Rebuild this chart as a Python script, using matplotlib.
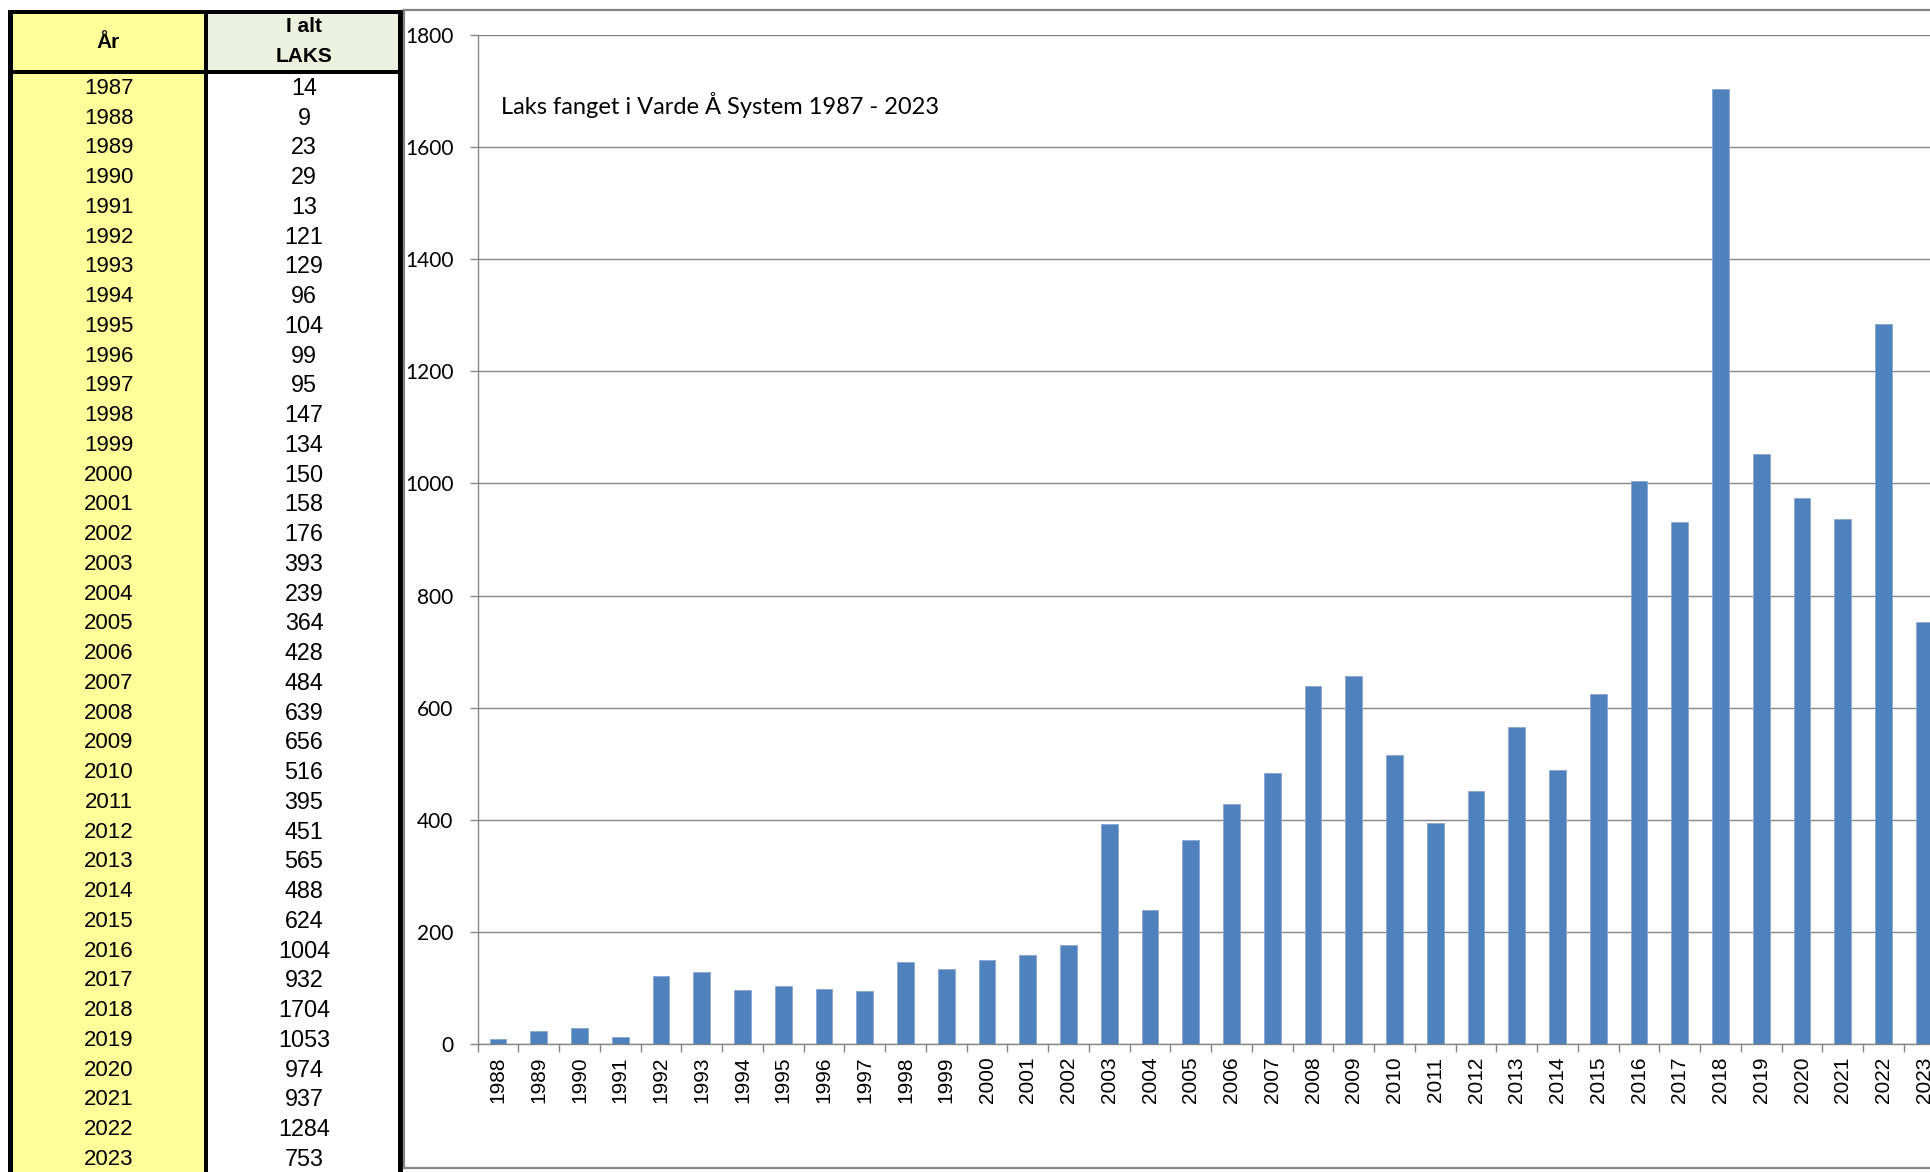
import matplotlib
matplotlib.use("Agg")
import matplotlib.pyplot as plt
from matplotlib.patches import Rectangle
import numpy as np

aar = [1987, 1988, 1989, 1990, 1991, 1992, 1993, 1994, 1995, 1996,
       1997, 1998, 1999, 2000, 2001, 2002, 2003, 2004, 2005, 2006,
       2007, 2008, 2009, 2010, 2011, 2012, 2013, 2014, 2015, 2016,
       2017, 2018, 2019, 2020, 2021, 2022, 2023]
laks = [14, 9, 23, 29, 13, 121, 129, 96, 104, 99,
        95, 147, 134, 150, 158, 176, 393, 239, 364, 428,
        484, 639, 656, 516, 395, 451, 565, 488, 624, 1004,
        932, 1704, 1053, 974, 937, 1284, 753]
titel = "Laks fanget i Varde Å System 1987 - 2023"
kol_aar = "År"
kol_laks = ["I alt", "LAKS"]

W, H = 1930, 1172
ARIAL = "Liberation Sans"
GRIS = "#868686"

fig = plt.figure(figsize=(W / 100, H / 100), dpi=100)

# fond en pixels pour le tableau et le cadre
bg = fig.add_axes([0, 0, 1, 1])
bg.set_xlim(0, W)
bg.set_ylim(H, 0)
bg.axis("off")

def rect(x0, y0, x1, y1, c):
    bg.add_patch(Rectangle((x0, y0), x1 - x0, y1 - y0, facecolor=c, edgecolor="none"))

rect(13, 14, 203.5, 70, "#FFFF99")
rect(207.5, 14, 398, 70, "#EBF1DE")
rect(13, 74, 203.5, H, "#FFFF99")
# traits noirs epais
rect(8, 9.5, 403, 14, "black")
rect(8, 70, 403, 74, "black")
rect(8, 9.5, 13, H, "black")
rect(203.5, 9.5, 207.5, H, "black")
rect(398, 9.5, 403, H, "black")

bg.text(108, 42, kol_aar, ha="center", va="center", fontsize=15,
        fontweight="bold", family=ARIAL)
bg.text(304, 27, kol_laks[0], ha="center", va="center", fontsize=15,
        fontweight="bold", family=ARIAL)
bg.text(304, 57, kol_laks[1], ha="center", va="center", fontsize=15,
        fontweight="bold", family=ARIAL)

y0, pas = 88.3, 29.75
for i, (a, n) in enumerate(zip(aar, laks)):
    y = y0 + i * pas
    bg.text(109, y, str(a), ha="center", va="center", fontsize=16, family=ARIAL)
    bg.text(304, y, str(n), ha="center", va="center", fontsize=16.8, family=ARIAL)

# cadre gris du graphique
bg.plot([403.5, 403.5], [9.5, 1168], color=GRIS, lw=1.6)
bg.plot([403.5, W], [9.5, 9.5], color=GRIS, lw=1.6)
bg.plot([403.5, W], [1168, 1168], color=GRIS, lw=1.6)

# graphique (coupe a droite comme l'original)
left, right = 477.7, 477.7 + 36 * 40.75
top, bottom = 35, 1044
ax = fig.add_axes([left / W, (H - bottom) / H, (right - left) / W, (bottom - top) / H])
ax.patch.set_alpha(0)

x = np.arange(len(aar) - 1)
ax.bar(x, laks[1:], width=0.41, color="#4F81BD", edgecolor="#8EAAD6", linewidth=0.7, zorder=3)
ax.set_xlim(-0.5, len(x) - 0.5)
ax.set_ylim(0, 1800)
ax.set_yticks(np.arange(0, 1801, 200))
ax.yaxis.grid(True, color=GRIS, lw=1.0, zorder=0)
ax.set_xticks(x)
ax.set_xticklabels([str(a) for a in aar[1:]], rotation=90, fontsize=15, family=ARIAL)
ax.set_xticks(np.arange(-0.5, len(x), 1), minor=True)
ax.tick_params(axis="x", which="major", length=0, pad=9)
ax.tick_params(axis="x", which="minor", length=6, color=GRIS, width=1.0)
ax.tick_params(axis="y", length=6, color=GRIS, width=1.0, pad=11.5, labelsize=15)
for lab in ax.get_yticklabels():
    lab.set_family("Lato")
for s in ["top", "right"]:
    ax.spines[s].set_visible(False)
for s in ["left", "bottom"]:
    ax.spines[s].set_color(GRIS)
    ax.spines[s].set_linewidth(1.0)

fig.text(501 / W, 1 - 114 / H, titel, fontsize=17, family="Lato", va="baseline", ha="left")

fig.savefig("out.png", dpi=100)
